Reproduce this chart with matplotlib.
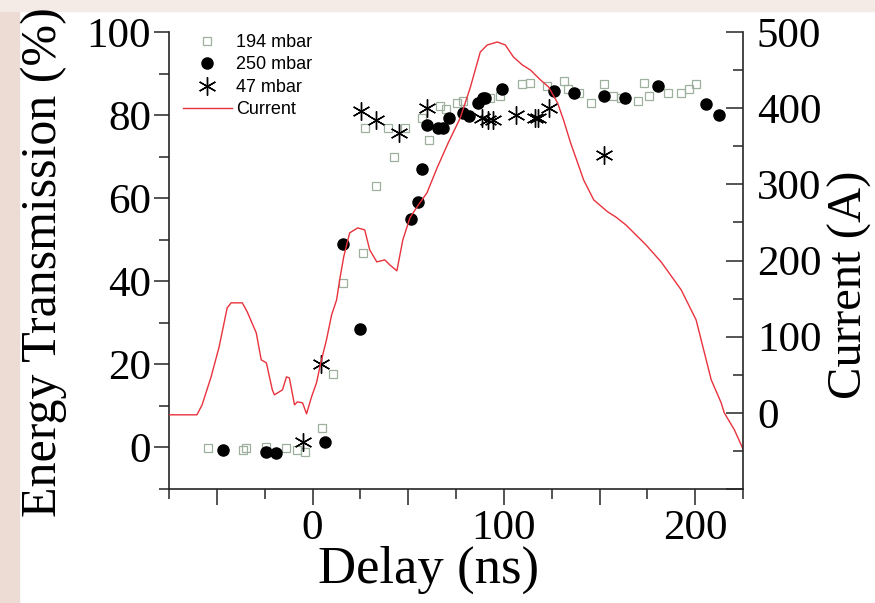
import matplotlib
matplotlib.use('Agg')
import matplotlib.pyplot as plt
from matplotlib.patches import Rectangle
from matplotlib.ticker import MultipleLocator, FuncFormatter

# Energy transmission data (delay in ns, transmission in %)
x_194 = [-54.6, -36.2, -34.6, -24.1, -13.6, -7.9, -3.7, 5.2, 10.5, 15.7, 26.2,
         27.3, 33.1, 39.4, 42.5, 48.3, 57.2, 60.9, 66.7, 70.0, 75.6, 78.7,
         92.9, 98.2, 109.7, 113.9, 122.8, 131.2, 133.3, 139.1, 145.4, 152.2,
         157.0, 161.2, 170.0, 173.2, 175.9, 185.8, 192.7, 196.9, 200.5]
y_194 = [-0.2, -0.7, -0.2, 0.0, -0.2, -0.5, -1.0, 4.8, 17.8, 39.7, 46.7,
         76.8, 63.0, 77.0, 69.8, 76.8, 79.4, 73.9, 82.3, 81.5, 83.0, 83.5,
         84.0, 84.7, 87.6, 87.8, 87.1, 88.3, 86.4, 85.2, 82.8, 87.6,
         84.7, 84.0, 83.5, 87.8, 84.7, 85.4, 85.2, 86.4, 87.4]

x_250 = [-46.7, -24.1, -18.9, 6.3, 15.7, 24.7, 51.4, 55.1, 57.2, 59.8, 65.6,
         68.2, 71.4, 78.7, 81.9, 86.6, 89.2, 90.3, 99.2, 126.0, 136.5, 152.2,
         163.3, 180.6, 205.8, 212.6]
y_250 = [-0.5, -1.0, -1.4, 1.2, 48.9, 28.4, 55.1, 59.2, 67.1, 77.7, 76.8,
         77.0, 79.4, 80.6, 79.9, 83.0, 84.0, 84.2, 86.4, 85.9, 85.2, 84.5,
         84.0, 87.1, 82.6, 80.1]

x_47 = [-5.2, 4.2, 25.2, 33.1, 45.1, 59.8, 88.7, 91.9, 94.5, 106.6, 116.5,
        117.6, 123.4, 152.2]
y_47 = [1.4, 20.0, 81.1, 78.7, 75.6, 81.6, 79.2, 78.9, 78.9, 80.1, 79.2,
        79.4, 81.8, 70.3]

# Discharge current trace (delay in ns, current in A)
t_cur = [-75.6, -60.4, -57.7, -53.0, -48.8, -44.6, -42.5, -36.7, -34.1, -29.4,
         -26.8, -24.1, -21.0, -19.9, -15.7, -13.6, -12.1, -9.4, -7.9, -5.2,
         -3.1, -0.5, 2.1, 4.2, 7.3, 10.0, 12.6, 14.2, 16.3, 19.4,
         23.6, 27.3, 29.9, 33.6, 37.8, 40.4, 44.1, 47.2, 50.9, 54.6,
         59.8, 65.1, 70.9, 77.2, 82.4, 87.7, 91.3, 96.6, 100.8, 105.0,
         109.7, 113.9, 119.2, 123.4, 128.1, 131.2, 134.9, 138.6, 141.7, 147.0,
         154.3, 158.5, 163.8, 174.3, 182.2, 192.7, 200.5, 208.4, 213.6, 215.2,
         220.5, 225.2]
i_cur = [-2.6, -2.6, 10.5, 47.2, 86.6, 137.8, 144.4, 144.4, 132.5, 105.0,
         69.6, 65.6, 30.2, 23.6, 30.2, 47.2, 45.9, 10.5, 14.4, 13.1,
         -1.3, 21.0, 39.4, 64.3, 95.8, 128.6, 148.3, 174.5, 204.7, 236.2,
         242.8, 240.2, 213.9, 198.2, 200.8, 194.2, 186.4, 227.0, 255.9, 270.3,
         288.7, 321.5, 354.3, 387.1, 426.5, 473.8, 482.9, 486.9, 482.9, 467.2,
         456.7, 450.1, 437.0, 427.8, 406.8, 384.5, 354.3, 328.1, 305.8, 279.5,
         263.8, 257.2, 246.7, 220.5, 198.2, 161.4, 122.0, 43.3, 13.1, 0.0,
         -22.3, -48.6]

serif = ['Liberation Serif', 'DejaVu Serif']
spine_col = '#262626'

fig = plt.figure(figsize=(8.75, 6.03), dpi=100)
# faint slide background at the edges
fig.patches.append(Rectangle((0, 0), 0.022, 1, transform=fig.transFigure,
                             color='#eddcd4', zorder=-10))
fig.patches.append(Rectangle((0, 0.982), 1, 0.018, transform=fig.transFigure,
                             color='#f5ebe6', zorder=-10))

ax = fig.add_axes([169 / 875, 1 - 489 / 603, 574 / 875, 457 / 603])
ax2 = ax.twinx()

ax.plot(x_194, y_194, ls='none', marker='s', ms=6, mfc='none', mec='#9db09d',
        mew=0.9, label='194 mbar')
ax.plot(x_250, y_250, ls='none', marker='o', ms=8, color='black',
        label='250 mbar')
ax.plot(x_47, y_47, ls='none', marker=(6, 2, 0), ms=13, mec='black', mew=1.0,
        label='47 mbar')
ax2.plot(t_cur, i_cur, color='#e8323c', lw=1.0, label='Current')

ax.set_xlim(-75, 225)
ax.set_ylim(-10, 100)
ax2.set_ylim(-100, 500)

ax.xaxis.set_major_locator(MultipleLocator(50))
ax.xaxis.set_minor_locator(MultipleLocator(25))
ax.xaxis.set_major_formatter(FuncFormatter(lambda v, p: f'{v:.0f}' if v % 100 == 0 else ''))
ax.yaxis.set_major_locator(MultipleLocator(20))
ax.yaxis.set_minor_locator(MultipleLocator(10))
ax2.yaxis.set_major_locator(MultipleLocator(100))
ax2.yaxis.set_minor_locator(MultipleLocator(50))
ax2.yaxis.set_major_formatter(FuncFormatter(lambda v, p: f'{v:.0f}' if v >= 0 else ''))

for a in (ax, ax2):
    a.spines['top'].set_visible(False)
    for s in a.spines.values():
        s.set_color(spine_col)
        s.set_linewidth(1.2)
ax.spines['right'].set_visible(False)
ax2.spines['left'].set_visible(False)
ax2.spines['bottom'].set_visible(False)

ax.tick_params(axis='x', which='major', direction='out', length=11.5, width=1.1,
               pad=3, labelsize=31, colors=spine_col)
ax.tick_params(axis='x', which='minor', direction='out', length=7, width=1.1,
               colors=spine_col)
ax.tick_params(axis='y', which='major', direction='out', length=11, width=1.1,
               pad=2, labelsize=31, colors=spine_col, right=False)
ax.tick_params(axis='y', which='minor', direction='out', length=7, width=1.1,
               colors=spine_col, right=False)
ax2.tick_params(axis='y', which='major', direction='in', length=12, width=1.1,
                pad=10, labelsize=31, colors=spine_col)
ax2.tick_params(axis='y', which='minor', direction='in', length=7, width=1.1,
                colors=spine_col)

for lab in ax.get_xticklabels() + ax.get_yticklabels() + ax2.get_yticklabels():
    lab.set_family(serif)
    lab.set_color('black')

fig.text(44 / 875, 1 - 262 / 603, 'Energy Transmission (%)', family=serif,
         fontsize=36, rotation=90, ha='center', va='center')
fig.text(429 / 875, 1 - 570 / 603, 'Delay (ns)', family=serif,
         fontsize=38, ha='center', va='center')
fig.text(850 / 875, 1 - 285 / 603, 'Current (A)', family=serif,
         fontsize=35, rotation=90, ha='center', va='center')

h1, l1 = ax.get_legend_handles_labels()
h2, l2 = ax2.get_legend_handles_labels()
ax2.legend(h1 + h2, l1 + l2, loc='upper left',
           bbox_to_anchor=((183 - 169) / 574, (489 - 34) / 457),
           frameon=False, borderpad=0, borderaxespad=0, handlelength=2.7,
           handletextpad=0.25, labelspacing=0.3,
           prop={'family': ['Liberation Sans', 'DejaVu Sans'], 'size': 13})

fig.savefig('out.png', dpi=100)
